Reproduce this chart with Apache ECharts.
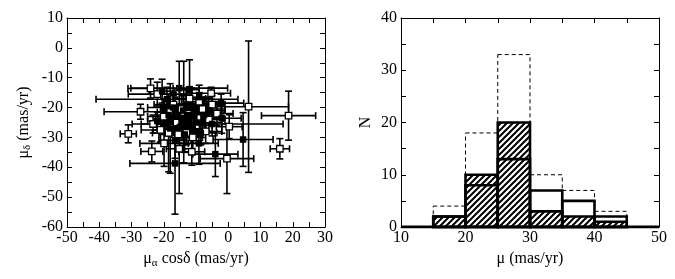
<!DOCTYPE html>
<html><head><meta charset="utf-8">
<script src="https://cdn.jsdelivr.net/npm/echarts@6/dist/echarts.min.js"></script>
<style>html,body{margin:0;padding:0;background:#fff}#c{width:675px;height:279px}</style>
</head><body><div id="c"></div>
<script>
// ---- Left panel: proper motions (mas/yr) with errors ----
const openX  = [6.3, 18.7, 16.0, -31.0, -27.2, -23.7, -24.1, -23.3, -0.4, 0.3, -19.9, -15.2, -11.3, -5.3, -22.0, -18.5, -13.8, -12.5, -8.0, -6.0, -17.0, -10.0, -13.0, -9.0, -20.0, -16.0, -11.0, -7.0, -14.5, -5.0, -18.0, -12.0, -9.5, -3.5, -21.0, -15.5, -11.5];
const openY  = [-19.7, -22.7, -33.8, -28.8, -21.4, -34.7, -13.6, -25.5, -37.1, -26.4, -32.0, -33.8, -34.8, -15.2, -15.5, -28.5, -21.5, -22.0, -20.5, -24.0, -19.0, -26.0, -28.5, -18.0, -23.0, -25.0, -30.0, -28.0, -20.5, -19.0, -21.5, -17.0, -23.5, -22.0, -27.5, -29.0, -24.0];
const openEx = [12.4, 8.4, 3.0, 2.5, 11.3, 3.4, 7.0, 6.5, 8.3, 4.0, 7.5, 4.0, 4.0, 6.0, 9.0, 5.0, 5.0, 6.0, 7.0, 5.0, 6.0, 5.0, 4.0, 4.0, 5.0, 7.0, 3.0, 5.0, 5.0, 4.0, 4.0, 5.0, 8.0, 5.0, 6.0, 6.0, 4.0];
const openEy = [22.0, 8.2, 3.4, 3.0, 2.5, 3.5, 3.2, 3.0, 11.7, 4.0, 7.7, 15.0, 4.5, 2.0, 4.0, 13.0, 17.0, 8.0, 4.0, 4.0, 4.0, 5.0, 4.0, 3.0, 3.0, 4.0, 5.0, 4.0, 5.0, 3.0, 3.0, 4.0, 5.0, 4.0, 4.0, 3.0, 4.0];

const filledX  = [-16.5, 4.6, -4.0, -9.1, -16.5, -15.2, -2.0, -2.2, -22.0, -19.0, -20.5, -14.0, -12.0, -16.0, -10.0, -8.0, -18.5, -13.0, -11.0, -15.0, -6.0, -9.0, -17.0, -12.5, -14.5, -10.5, -19.0, -7.5, -13.5, -16.5, -11.5, -20.0, -8.5, -12.0, -5.0, -18.0, -14.0, -10.0];
const filledY  = [-38.7, -30.7, -35.6, -32.0, -31.0, -13.5, -23.6, -18.5, -24.5, -17.2, -14.5, -21.0, -24.0, -23.0, -21.0, -25.0, -22.5, -19.0, -27.0, -26.5, -21.0, -16.5, -20.0, -22.5, -24.5, -23.0, -25.5, -22.5, -29.0, -21.5, -19.5, -20.0, -28.5, -14.0, -25.5, -27.0, -23.5, -25.0];
const filledEx = [14.0, 9.3, 7.0, 6.0, 5.0, 15.0, 6.0, 7.0, 3.0, 22.0, 4.0, 5.0, 6.0, 4.0, 5.0, 6.0, 4.0, 5.0, 4.0, 5.0, 5.0, 4.0, 4.0, 3.0, 4.0, 4.0, 4.0, 5.0, 4.0, 4.0, 5.0, 5.0, 5.0, 3.0, 22.0, 4.0, 3.0, 4.0];
const filledEy = [17.0, 9.0, 7.5, 7.0, 6.0, 9.0, 5.0, 3.0, 3.0, 4.0, 4.0, 5.0, 6.0, 4.0, 4.0, 5.0, 3.0, 5.0, 5.0, 4.0, 4.0, 4.0, 4.0, 4.0, 3.0, 3.0, 4.0, 5.0, 6.0, 5.0, 6.0, 3.0, 4.0, 10.0, 4.0, 15.0, 3.0, 3.0];

// ---- Right panel: histogram of total proper motion ----
const binStart      = [10, 15, 20, 25, 30, 35, 40, 45];
const binWidth      = 5;
const totalCounts   = [0, 4, 18, 33, 10, 7, 3, 0];
const hatchedCounts = [0, 2, 10, 20, 3, 2, 1, 0];
const openCounts    = [0, 2, 8, 13, 7, 5, 2, 0];

const FONT = 'Liberation Serif';
const FS = 16;

function zip4(a, b, c, d) { return a.map((v, i) => [v, b[i], c[i], d[i]]); }
function bins(counts) { return binStart.map((s, i) => [s, s + binWidth, counts[i]]); }

// hatch pattern
const pat = document.createElement('canvas');
pat.width = 6; pat.height = 6;
(function () {
  const g = pat.getContext('2d');
  g.fillStyle = '#fff'; g.fillRect(0, 0, 6, 6);
  g.strokeStyle = '#000'; g.lineWidth = 2;
  g.beginPath();
  g.moveTo(-1, 7); g.lineTo(7, -1);
  g.moveTo(-4, 4); g.lineTo(4, -4);
  g.moveTo(2, 10); g.lineTo(10, 2);
  g.stroke();
})();

function errRender(params, api) {
  const x = api.value(0), y = api.value(1), ex = api.value(2), ey = api.value(3);
  const l = api.coord([x - ex, y]), r = api.coord([x + ex, y]);
  const t = api.coord([x, y + ey]), b = api.coord([x, y - ey]);
  const cap = 3.5;
  const st = { stroke: '#000', lineWidth: 1.6, fill: null };
  const ln = (x1, y1, x2, y2) => ({ type: 'line', shape: { x1, y1, x2, y2 }, style: st });
  return { type: 'group', children: [
    ln(l[0], l[1], r[0], r[1]),
    ln(l[0], l[1] - cap, l[0], l[1] + cap),
    ln(r[0], r[1] - cap, r[0], r[1] + cap),
    ln(t[0], t[1], b[0], b[1]),
    ln(t[0] - cap, t[1], t[0] + cap, t[1]),
    ln(b[0] - cap, b[1], b[0] + cap, b[1])
  ]};
}

function histRender(style) {
  return function (params, api) {
    const lo = api.value(0), hi = api.value(1), n = api.value(2);
    if (!n) return null;
    const p0 = api.coord([lo, n]), p1 = api.coord([hi, 0]);
    return { type: 'rect', shape: { x: p0[0], y: p0[1], width: p1[0] - p0[0], height: p1[1] - p0[1] }, style: style };
  };
}

const labelStyle = { color: '#000', fontFamily: FONT, fontSize: FS };
function mkX(gridIndex, min, max, name, rich, bottom) {
  return {
    type: 'value', gridIndex, min, max, interval: 5, position: bottom ? 'bottom' : 'top',
    name: bottom ? name : '', nameLocation: 'middle', nameGap: 21,
    nameTextStyle: { color: '#000', fontFamily: FONT, fontSize: FS, rich: rich },
    axisLine: { show: true, onZero: false, lineStyle: { color: '#000', width: 1 } },
    axisTick: { show: true, inside: true, length: 5, lineStyle: { color: '#000', width: 1 } },
    axisLabel: { show: bottom, margin: 3, ...labelStyle, formatter: v => (v % 10 === 0 ? String(v) : '') },
    splitLine: { show: false }
  };
}
function mkY(gridIndex, min, max, name, rich, left, gap) {
  return {
    type: 'value', gridIndex, min, max, interval: 5, position: left ? 'left' : 'right',
    name: left ? name : '', nameLocation: 'middle', nameGap: gap, nameRotate: 90,
    nameTextStyle: { color: '#000', fontFamily: FONT, fontSize: FS, rich: rich },
    axisLine: { show: true, onZero: false, lineStyle: { color: '#000', width: 1 } },
    axisTick: { show: true, inside: true, length: 5, lineStyle: { color: '#000', width: 1 } },
    axisLabel: { show: left, margin: 4, ...labelStyle, formatter: v => (v % 10 === 0 ? String(v) : '') },
    splitLine: { show: false }
  };
}
const rich = {
  m: { fontFamily: FONT, fontSize: FS, color: '#000' },
  s: { fontFamily: FONT, fontSize: 11, color: '#000', padding: [8, 0, 0, 0] }
};

const chart = echarts.init(document.getElementById('c'), null, { renderer: 'canvas' });
chart.setOption({
  animation: false,
  backgroundColor: '#fff',
  grid: [
    { left: 67, top: 18, width: 258, height: 209 },
    { left: 401, top: 18, width: 258, height: 209 }
  ],
  xAxis: [
    mkX(0, -50, 30, '{m|μ}{s|α}{m| cosδ (mas/yr)}', rich, true),
    mkX(0, -50, 30, '', rich, false),
    mkX(1, 10, 50, 'μ (mas/yr)', rich, true),
    mkX(1, 10, 50, '', rich, false)
  ],
  yAxis: [
    mkY(0, -60, 10, '{m|μ}{s|δ}{m| (mas/yr)}', rich, true, 34),
    mkY(0, -60, 10, '', rich, false, 0),
    mkY(1, 0, 40, 'N', rich, true, 27),
    mkY(1, 0, 40, '', rich, false, 0)
  ],
  series: [
    { type: 'custom', xAxisIndex: 0, yAxisIndex: 0, renderItem: errRender, data: zip4(openX, openY, openEx, openEy), encode: { x: 0, y: 1 }, clip: true, z: 2 },
    { type: 'custom', xAxisIndex: 0, yAxisIndex: 0, renderItem: errRender, data: zip4(filledX, filledY, filledEx, filledEy), encode: { x: 0, y: 1 }, clip: true, z: 2 },
    { type: 'scatter', xAxisIndex: 0, yAxisIndex: 0, symbol: 'rect', symbolSize: 6.5, data: openX.map((v, i) => [v, openY[i]]),
      itemStyle: { color: '#fff', borderColor: '#000', borderWidth: 1.3, opacity: 1 }, z: 3 },
    { type: 'scatter', xAxisIndex: 0, yAxisIndex: 0, symbol: 'rect', symbolSize: 6.5, data: filledX.map((v, i) => [v, filledY[i]]),
      itemStyle: { color: '#000', borderColor: '#000', borderWidth: 0, opacity: 1 }, z: 4 },
    { type: 'custom', xAxisIndex: 2, yAxisIndex: 2, renderItem: histRender({ fill: null, stroke: '#000', lineWidth: 1, lineDash: [4, 3] }),
      data: bins(totalCounts), encode: { x: [0, 1], y: 2 }, z: 2 },
    { type: 'custom', xAxisIndex: 2, yAxisIndex: 2, renderItem: histRender({ fill: { image: pat, repeat: 'repeat' }, stroke: '#000', lineWidth: 2.6 }),
      data: bins(hatchedCounts), encode: { x: [0, 1], y: 2 }, z: 3 },
    { type: 'custom', xAxisIndex: 2, yAxisIndex: 2, renderItem: histRender({ fill: null, stroke: '#000', lineWidth: 2.6 }),
      data: bins(openCounts), encode: { x: [0, 1], y: 2 }, z: 4 },
    { type: 'line', xAxisIndex: 2, yAxisIndex: 2, data: [[binStart[0], 0], [binStart[binStart.length - 1] + binWidth, 0]],
      symbol: 'none', lineStyle: { color: '#000', width: 3 }, z: 5 }
  ]
});
</script></body></html>
